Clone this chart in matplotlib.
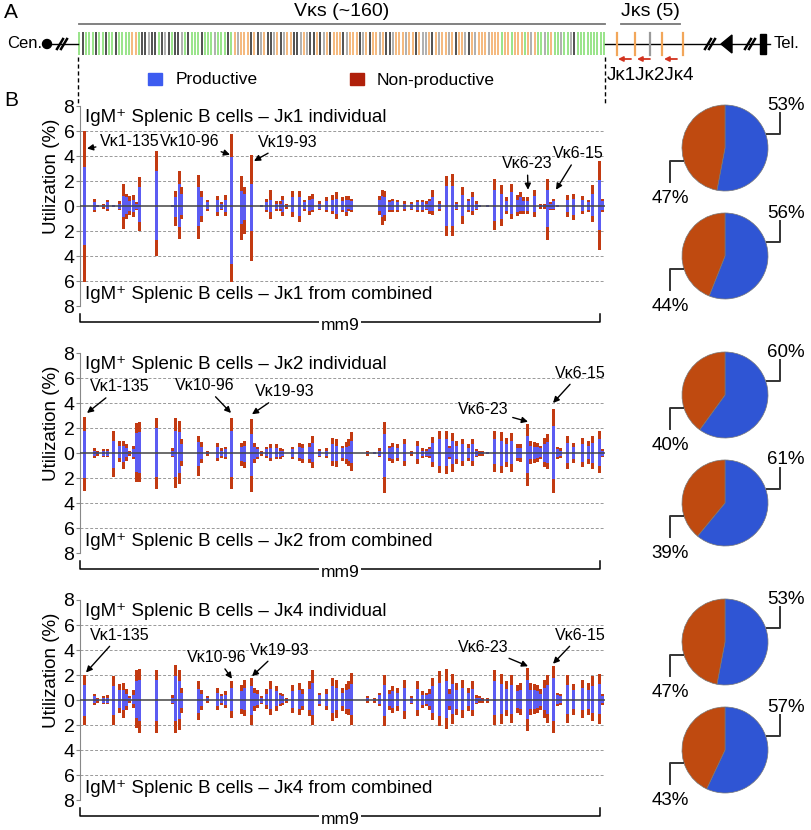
import numpy as np
import matplotlib
matplotlib.use('Agg')
import matplotlib.pyplot as plt
from matplotlib.patches import Rectangle, Circle, Polygon

plt.rcParams['font.family'] = ['Liberation Sans', 'DejaVu Sans']

# ---------------- data ----------------
# V gene positions along the locus (arbitrary locus units)
v_pos = [78, 85, 95, 98, 104, 108, 114, 120, 124, 127,
         130, 134, 137, 140, 157, 173, 176, 180, 182, 199,
         202, 208, 218, 222, 226, 232, 242, 245, 252, 255,
         258, 262, 267, 271, 277, 281, 283, 287, 293, 300,
         303, 305, 310, 313, 320, 327, 333, 337, 343, 347,
         349, 352, 368, 375, 380, 383, 385, 390, 393, 398,
         405, 412, 418, 423, 427, 430, 433, 440, 447, 450,
         453, 457, 463, 469, 473, 477, 480, 483, 488, 495,
         502, 507, 512, 518, 521, 524, 528, 531, 535, 538,
         541, 545, 548, 551, 554, 558, 561, 568, 574, 583,
         589, 593, 600, 603]

# Jk1: total utilization (%) and productive part, individual (top) / from combined (bottom)
j1_top = [0, 6.0, 0.6, 0.1, 0.2, 0.5, 0.1, 0.4, 1.8, 1.0,
          0.8, 0.9, 0.3, 2.3, 4.4, 0.1, 1.2, 2.8, 1.5, 2.5,
          1.2, 0.5, 0.8, 0.3, 0.9, 5.8, 2.4, 1.5, 4.1, 0,
          0, 0.1, 0.6, 1.3, 0.4, 0.4, 0.8, 0.2, 1.2, 1.2,
          0, 0.5, 0.8, 1.0, 0.4, 0.7, 0.9, 1.1, 0.7, 0.8,
          0.8, 0.6, 0, 0, 0.8, 1.3, 1.2, 0.5, 0.6, 0.5,
          0.4, 0.3, 0.5, 0.5, 0.4, 0.6, 1.3, 0.4, 2.4, 0,
          2.6, 0.3, 1.5, 0.6, 1.1, 0.4, 0.1, 0, 0.1, 2.2,
          1.7, 0.7, 1.8, 0.9, 1.1, 0.7, 0.7, 0, 1.3, 0,
          0.2, 0.2, 2.2, 0.3, 0.6, 0.1, 0, 0.9, 1.0, 0.8,
          0.5, 1.7, 3.6, 0.6]
j1_top_prod = [0, 3.1, 0.3, 0.05, 0.1, 0.3, 0.05, 0.2, 0.8, 0.7,
               0.4, 0.5, 0.2, 1.5, 2.8, 0.05, 0.7, 1.8, 1.0, 1.5,
               0.7, 0.3, 0.5, 0.2, 0.5, 3.9, 1.2, 1.0, 1.8, 0,
               0, 0.05, 0.3, 0.5, 0.2, 0.2, 0.5, 0.1, 0.7, 0.7,
               0, 0.3, 0.5, 0.6, 0.2, 0.4, 0.5, 0.6, 0.4, 0.5,
               0.5, 0.4, 0, 0, 0.5, 0.8, 0.7, 0.3, 0.4, 0.3,
               0.2, 0.2, 0.3, 0.3, 0.2, 0.4, 0.7, 0.2, 1.6, 0,
               1.6, 0.2, 0.9, 0.4, 0.7, 0.2, 0.05, 0, 0.05, 1.3,
               1.0, 0.4, 1.1, 0.5, 0.7, 0.4, 0.4, 0, 0.8, 0,
               0.1, 0.1, 1.3, 0.2, 0.4, 0.05, 0, 0.5, 0.6, 0.5,
               0.3, 1.0, 2.1, 0.4]
j1_bot = [0, 6.1, 0.5, 0.1, 0.2, 0.4, 0.1, 0.3, 1.8, 1.0,
          0.7, 0.9, 0.3, 2.0, 4.0, 0.1, 1.6, 2.6, 1.0, 2.6,
          1.3, 0.4, 0.8, 0.3, 0.8, 6.1, 2.7, 2.2, 4.4, 0,
          0, 0.1, 0.5, 1.0, 0.4, 0.4, 0.8, 0.2, 0.9, 1.3,
          0, 0.4, 0.7, 0.5, 0.3, 0.5, 0.6, 1.0, 0.5, 0.8,
          0.4, 0.5, 0, 0, 0.7, 1.5, 1.2, 0.5, 0.5, 0.5,
          0.4, 0.3, 0.5, 0.5, 0.3, 0.6, 0.7, 0.4, 2.4, 0,
          2.4, 0.3, 1.4, 0.5, 0.7, 0.3, 0.1, 0, 0.1, 1.9,
          1.6, 0.6, 1.0, 0.8, 0.6, 0.6, 0.6, 0, 0.9, 0,
          0.2, 0.2, 2.7, 0.3, 0.3, 0.1, 0, 0.9, 1.1, 0.6,
          0.5, 1.3, 3.5, 0.5]
j1_bot_prod = [0, 3.1, 0.3, 0.05, 0.1, 0.2, 0.05, 0.2, 0.9, 0.6,
               0.4, 0.5, 0.2, 1.3, 2.7, 0.05, 0.9, 1.7, 0.7, 1.6,
               0.8, 0.2, 0.5, 0.2, 0.5, 4.6, 1.4, 1.1, 2.0, 0,
               0, 0.05, 0.3, 0.5, 0.2, 0.2, 0.5, 0.1, 0.5, 0.8,
               0, 0.2, 0.4, 0.3, 0.2, 0.3, 0.4, 0.6, 0.3, 0.5,
               0.2, 0.3, 0, 0, 0.4, 0.9, 0.7, 0.3, 0.3, 0.3,
               0.2, 0.2, 0.3, 0.3, 0.2, 0.4, 0.4, 0.2, 1.6, 0,
               1.6, 0.2, 0.8, 0.3, 0.4, 0.2, 0.05, 0, 0.05, 1.2,
               1.0, 0.4, 0.6, 0.5, 0.4, 0.4, 0.4, 0, 0.5, 0,
               0.1, 0.1, 1.7, 0.2, 0.2, 0.05, 0, 0.5, 0.7, 0.4,
               0.3, 0.8, 1.9, 0.3]

# Jk2
j2_top = [2.0, 2.9, 0.4, 0.2, 0.3, 0.3, 1.8, 1.0, 1.0, 0.7,
          0.2, 0.6, 2.4, 2.5, 2.8, 0.4, 2.8, 2.6, 1.1, 1.4,
          0.9, 0.2, 0.8, 0.4, 0.5, 2.8, 0.8, 1.0, 2.7, 0.8,
          0.5, 0.2, 0.5, 0.7, 0.7, 0.4, 0.3, 0, 0.5, 0.8,
          0.7, 0, 0.8, 1.4, 0.3, 0.4, 1.2, 1.1, 0.6, 0.9,
          1.1, 1.7, 0.2, 0.1, 0.4, 0, 2.5, 0.6, 0.8, 0.7,
          1.1, 0.2, 1.0, 0.4, 0.3, 0.5, 1.3, 1.8, 1.8, 0.6,
          1.6, 1.0, 1.1, 0.7, 1.1, 0.3, 0.2, 0.2, 0.1, 1.8,
          1.7, 1.2, 1.6, 0.7, 0.7, 0, 2.3, 1.0, 0.9, 0.8,
          0.6, 1.2, 1.5, 0, 3.5, 0.5, 0.4, 1.4, 0.8, 1.2,
          1.0, 1.4, 1.8, 0.3]
j2_top_prod = [1.3, 1.8, 0.2, 0.1, 0.2, 0.2, 1.0, 0.6, 0.6, 0.4,
               0.1, 0.3, 1.6, 1.7, 2.0, 0.2, 1.8, 1.7, 0.7, 0.9,
               0.5, 0.1, 0.5, 0.2, 0.3, 1.8, 0.5, 0.6, 1.5, 0.5,
               0.3, 0.1, 0.3, 0.4, 0.4, 0.2, 0.2, 0, 0.3, 0.5,
               0.4, 0, 0.5, 0.8, 0.2, 0.2, 0.7, 0.6, 0.4, 0.5,
               0.6, 1.0, 0.1, 0.05, 0.2, 0, 1.5, 0.4, 0.5, 0.4,
               0.7, 0.1, 0.6, 0.2, 0.2, 0.3, 0.8, 1.1, 1.1, 0.4,
               1.0, 0.6, 0.7, 0.4, 0.7, 0.2, 0.1, 0.1, 0.05, 1.1,
               1.0, 0.7, 1.0, 0.4, 0.4, 0, 1.4, 0.6, 0.5, 0.5,
               0.4, 0.7, 0.9, 0, 2.2, 0.3, 0.2, 0.8, 0.5, 0.7,
               0.6, 0.8, 1.1, 0.2]
j2_bot = [2.7, 3.0, 0.4, 0.2, 0.3, 0.3, 1.9, 0.7, 1.3, 0.6,
          0.2, 0.5, 2.3, 2.3, 2.9, 0.3, 2.8, 2.5, 1.0, 1.8,
          0.8, 0.2, 0.6, 0.4, 0.5, 2.9, 1.0, 1.2, 3.1, 0.8,
          0.5, 0.2, 0.4, 0.6, 0.5, 0.5, 0.3, 0, 0.5, 0.6,
          0.8, 0, 0.8, 1.2, 0.3, 0.4, 1.0, 1.1, 0.6, 0.9,
          1.0, 1.4, 0.2, 0.1, 0.3, 0, 3.2, 0.6, 0.8, 0.6,
          1.0, 0.2, 0.9, 0.4, 0.3, 0.4, 1.1, 1.6, 1.7, 0.5,
          1.5, 0.9, 1.0, 0.6, 1.0, 0.3, 0.2, 0.2, 0.1, 1.5,
          1.6, 1.1, 1.5, 0.6, 0.7, 0, 2.6, 0.9, 0.8, 0.7,
          0.5, 1.1, 1.3, 0, 3.2, 0.5, 0.4, 1.3, 0.8, 1.1,
          0.9, 1.3, 1.6, 0.3]
j2_bot_prod = [1.9, 2.0, 0.2, 0.1, 0.2, 0.2, 1.2, 0.4, 0.7, 0.3,
               0.1, 0.3, 1.5, 1.6, 1.9, 0.2, 1.9, 1.6, 0.6, 1.0,
               0.5, 0.1, 0.4, 0.2, 0.3, 1.9, 0.6, 0.7, 1.8, 0.5,
               0.3, 0.1, 0.2, 0.4, 0.3, 0.3, 0.2, 0, 0.3, 0.4,
               0.5, 0, 0.5, 0.7, 0.2, 0.2, 0.6, 0.6, 0.4, 0.5,
               0.6, 0.8, 0.1, 0.05, 0.2, 0, 1.9, 0.4, 0.5, 0.4,
               0.6, 0.1, 0.5, 0.2, 0.2, 0.2, 0.7, 1.0, 1.0, 0.3,
               0.9, 0.5, 0.6, 0.4, 0.6, 0.2, 0.1, 0.1, 0.05, 0.9,
               1.0, 0.7, 0.9, 0.4, 0.4, 0, 1.6, 0.5, 0.5, 0.4,
               0.3, 0.7, 0.8, 0, 2.1, 0.3, 0.2, 0.8, 0.5, 0.7,
               0.5, 0.8, 1.0, 0.2]

# Jk4
j4_top = [2.0, 2.0, 0.5, 0.2, 0.3, 0.4, 1.9, 1.3, 1.4, 0.9,
          0.3, 0.8, 2.4, 2.5, 2.4, 0.4, 2.8, 2.4, 1.0, 1.5,
          0.8, 0.3, 1.0, 0.5, 0.7, 1.5, 1.2, 1.6, 1.8, 1.0,
          0.8, 0.3, 0.9, 1.5, 1.1, 0.6, 0.5, 0.2, 1.2, 1.4,
          0.9, 0, 1.5, 2.4, 0.6, 0.9, 1.8, 1.6, 1.0, 1.3,
          1.5, 2.2, 0.3, 0.2, 0.6, 0, 2.0, 0.8, 1.1, 1.0,
          1.6, 0.3, 1.5, 0.7, 0.6, 0.9, 1.8, 2.3, 2.5, 0.9,
          2.1, 1.4, 1.6, 1.0, 1.5, 0.4, 0.3, 0.2, 0.2, 2.4,
          2.1, 1.5, 2.0, 1.2, 1.4, 0, 2.6, 1.4, 1.3, 1.2,
          0.9, 1.6, 2.0, 0, 2.7, 0.6, 0.5, 2.0, 1.3, 1.6,
          1.4, 1.9, 2.1, 0.5]
j4_top_prod = [1.3, 1.2, 0.3, 0.1, 0.2, 0.2, 1.1, 0.8, 0.8, 0.5,
               0.2, 0.4, 1.5, 1.6, 1.6, 0.2, 1.9, 1.5, 0.6, 0.9,
               0.5, 0.2, 0.6, 0.3, 0.4, 1.0, 0.7, 1.0, 1.1, 0.6,
               0.5, 0.2, 0.5, 0.9, 0.7, 0.4, 0.3, 0.1, 0.7, 0.8,
               0.5, 0, 0.9, 1.4, 0.4, 0.5, 1.1, 1.0, 0.6, 0.8,
               0.9, 1.3, 0.2, 0.1, 0.4, 0, 1.2, 0.5, 0.7, 0.6,
               1.0, 0.2, 0.9, 0.4, 0.4, 0.5, 1.1, 1.4, 1.5, 0.5,
               1.3, 0.8, 1.0, 0.6, 0.9, 0.2, 0.2, 0.1, 0.1, 1.5,
               1.3, 0.9, 1.2, 0.7, 0.8, 0, 1.6, 0.8, 0.8, 0.7,
               0.5, 1.0, 1.2, 0, 1.8, 0.4, 0.3, 1.2, 0.8, 1.0,
               0.8, 1.1, 1.3, 0.3]
j4_bot = [2.0, 2.0, 0.4, 0.2, 0.3, 0.3, 2.0, 1.0, 1.4, 0.8,
          0.2, 0.6, 2.2, 2.6, 2.6, 0.3, 2.6, 2.4, 1.0, 1.6,
          0.8, 0.2, 0.8, 0.4, 0.6, 1.4, 1.1, 1.3, 2.0, 0.9,
          0.6, 0.3, 0.7, 1.2, 0.9, 0.5, 0.4, 0.2, 1.0, 1.2,
          0.8, 0, 1.3, 2.0, 0.5, 0.8, 1.7, 1.4, 0.9, 1.1,
          1.2, 2.0, 0.2, 0.2, 0.5, 0, 2.1, 0.8, 1.0, 0.9,
          1.5, 0.3, 1.3, 0.6, 0.5, 0.8, 1.6, 2.1, 2.3, 0.8,
          1.9, 1.2, 1.4, 0.9, 1.3, 0.3, 0.2, 0.2, 0.2, 2.0,
          1.9, 1.3, 1.8, 1.0, 1.2, 0, 2.5, 1.2, 1.1, 1.0,
          0.8, 1.4, 1.8, 0, 2.6, 0.5, 0.4, 1.8, 1.2, 1.4,
          1.2, 1.7, 1.9, 0.4]
j4_bot_prod = [1.4, 1.3, 0.2, 0.1, 0.2, 0.2, 1.2, 0.6, 0.8, 0.5,
               0.1, 0.3, 1.4, 1.7, 1.7, 0.2, 1.7, 1.5, 0.6, 1.0,
               0.5, 0.1, 0.5, 0.2, 0.4, 0.9, 0.7, 0.8, 1.2, 0.5,
               0.4, 0.2, 0.4, 0.7, 0.5, 0.3, 0.2, 0.1, 0.6, 0.7,
               0.5, 0, 0.8, 1.2, 0.3, 0.5, 1.0, 0.8, 0.5, 0.7,
               0.7, 1.2, 0.1, 0.1, 0.3, 0, 1.3, 0.5, 0.6, 0.5,
               0.9, 0.2, 0.8, 0.4, 0.3, 0.5, 1.0, 1.3, 1.4, 0.5,
               1.1, 0.7, 0.8, 0.5, 0.8, 0.2, 0.1, 0.1, 0.1, 1.2,
               1.1, 0.8, 1.1, 0.6, 0.7, 0, 1.5, 0.7, 0.7, 0.6,
               0.5, 0.8, 1.1, 0, 1.7, 0.3, 0.2, 1.1, 0.7, 0.8,
               0.7, 1.0, 1.1, 0.2]

jk_names = ['Jκ1', 'Jκ2', 'Jκ4']
pie_individual = [(53, 47), (60, 40), (53, 47)]   # productive, non-productive
pie_combined = [(56, 44), (61, 39), (57, 43)]

# V segment colour codes along the locus: g green, k black, a grey, o orange
v_colors = ("gkgggkggkggkgggg" "oogk" "kakkgkakgkkagk" "gggkgggagggkg" "oaoooko"
            "kaokkaokaookkaoakkokaok" "oookaoookaokooaokkaoooaooko"
            "aaokoaooaokooakoaoooa" "ooogoogooogoaog" "gagoggaggakg" "gggggggg")
j_colors = "ooaoo"

# ---------------- style ----------------
BLUE = '#5C5CF2'
RED = '#C23A12'
PIE_BLUE = '#2F55D4'
PIE_RED = '#BF4A10'
code_col = {'g': '#7DDC6A', 'k': '#222222', 'a': '#9A9A9A', 'o': '#F2A65A'}

W, H = 812, 830
fig = plt.figure(figsize=(W / 100, H / 100), dpi=100)

def px_rect(x0, y0, x1, y1):
    return [x0 / W, 1 - y1 / H, (x1 - x0) / W, (y1 - y0) / H]

panels = [
    dict(zero=206, top=j1_top, tp=j1_top_prod, bot=j1_bot, bp=j1_bot_prod,
         ann=[('Vκ1-135', (100, 5.2), (87, 4.6)), ('Vκ10-96', (160, 5.2), (230, 4.1)),
              ('Vκ19-93', (258, 5.1), (254, 3.6)), ('Vκ6-23', (502, 3.4), (528, 1.3)),
              ('Vκ6-15', (553, 4.2), (556, 1.3))]),
    dict(zero=453, top=j2_top, tp=j2_top_prod, bot=j2_bot, bp=j2_bot_prod,
         ann=[('Vκ1-135', (90, 5.3), (87, 3.2)), ('Vκ10-96', (175, 5.4), (231, 3.2)),
              ('Vκ19-93', (255, 4.9), (252, 3.1)), ('Vκ6-23', (458, 3.5), (528, 2.5)),
              ('Vκ6-15', (555, 6.4), (553, 4.0))]),
    dict(zero=700, top=j4_top, tp=j4_top_prod, bot=j4_bot, bp=j4_bot_prod,
         ann=[('Vκ1-135', (90, 5.2), (86, 2.2)), ('Vκ10-96', (187, 3.4), (232, 1.7)),
              ('Vκ19-93', (250, 4.0), (252, 1.9)), ('Vκ6-23', (458, 4.2), (528, 2.7)),
              ('Vκ6-15', (555, 5.2), (553, 2.9))]),
]

pos = np.array(v_pos, dtype=float)
for i, p in enumerate(panels):
    z = p['zero']
    ax = fig.add_axes(px_rect(80, z - 100, 605, z + 100))
    top, tp = np.array(p['top']), np.array(p['tp'])
    bot, bp = np.array(p['bot']), np.array(p['bp'])
    bw = 3.0
    ax.bar(pos, tp, width=bw, color=BLUE, lw=0, zorder=2)
    ax.bar(pos, top - tp, bottom=tp, width=bw, color=RED, lw=0, zorder=2)
    ax.bar(pos, -bp, width=bw, color=BLUE, lw=0, zorder=2)
    ax.bar(pos, -(bot - bp), bottom=-bp, width=bw, color=RED, lw=0, zorder=2)
    ax.axhline(0, color='#444444', lw=1.1, zorder=3)
    for g in [-6, -4, -2, 2, 4, 6]:
        ax.axhline(g, color='#999999', lw=0.7, ls=(0, (3, 2)), zorder=1)
    ax.set_xlim(80, 605)
    ax.set_ylim(-8, 8)
    ax.set_yticks(range(-8, 9, 2))
    ax.set_yticklabels([str(abs(t)) for t in range(-8, 9, 2)], fontsize=14)
    ax.set_xticks([])
    for s in ['top', 'right', 'bottom']:
        ax.spines[s].set_visible(False)
    ax.spines['left'].set_color('#888888')
    ax.tick_params(axis='y', length=3, color='#888888', pad=1)
    ax.patch.set_alpha(0)
    ax.text(85, 7.05, 'IgM⁺ Splenic B cells – %s individual' % jk_names[i],
            fontsize=13.5, va='center', ha='left')
    ax.text(85, -7.1, 'IgM⁺ Splenic B cells – %s from combined' % jk_names[i],
            fontsize=13.5, va='center', ha='left')
    for lab, xyt, xyh in p['ann']:
        ax.annotate(lab, xy=xyh, xytext=xyt, fontsize=11.5, ha='left', va='center',
                    arrowprops=dict(arrowstyle='-|>', color='black', lw=1,
                                    mutation_scale=9, shrinkA=1, shrinkB=0),
                    zorder=5)

    # pies
    for k, (vals, cy) in enumerate([(pie_individual[i], z - 58), (pie_combined[i], z + 50)]):
        pa = fig.add_axes(px_rect(725 - 64.5, cy - 64.5, 725 + 64.5, cy + 64.5))
        pa.pie(vals, colors=[PIE_BLUE, PIE_RED], startangle=90, counterclock=False,
               wedgeprops=dict(edgecolor='#777777', lw=0.5))
        pa.set_xlim(-1.5, 1.5)
        pa.set_ylim(-1.5, 1.5)
        pa.set_aspect('equal')
        pa.axis('off')
        pa.plot([0.97, 1.27, 1.27], [0.33, 0.33, 0.82], color='#333333', lw=1.4, clip_on=False)
        pa.text(1.42, 1.0, '%d%%' % vals[0], fontsize=13.5, ha='center', va='center')
        pa.plot([-0.97, -1.27, -1.27], [-0.3, -0.3, -0.8], color='#333333', lw=1.4, clip_on=False)
        pa.text(-1.27, -1.17, '%d%%' % vals[1], fontsize=13.5, ha='center', va='center')

# ---------------- overlay (schematic, labels, brackets) ----------------
ov = fig.add_axes([0, 0, 1, 1])
ov.set_xlim(0, W)
ov.set_ylim(H, 0)
ov.axis('off')
ov.patch.set_alpha(0)

ov.text(4, 13, 'A', fontsize=15, va='center')
ov.text(4, 101, 'B', fontsize=15, va='center')

# V cluster
vx = np.linspace(79.5, 604, len(v_colors))
for x, c in zip(vx, v_colors):
    ov.plot([x, x], [32, 55], color=code_col[c], lw=1.1, solid_capstyle='butt')
ov.plot([79, 605], [24, 24], color='#777777', lw=1.3)
ov.text(342, 12, 'Vκs (~160)', fontsize=14, ha='center', va='center')

# left end
ov.text(7, 44, 'Cen.', fontsize=12, va='center')
ov.add_patch(Circle((47, 44), 4.5, color='black'))
ov.plot([52, 78], [44, 44], color='black', lw=1)
for dx in (0, 4):
    ov.plot([57 + dx, 63 + dx], [49, 39], color='black', lw=1.8)

# J cluster and telomeric end
ov.plot([605, 770], [44, 44], color='black', lw=1)
jx = [617, 635, 650, 662, 683]
for x, c in zip(jx, j_colors):
    ov.plot([x, x], [33, 55], color=code_col[c], lw=1.6)
ov.plot([621, 680], [24, 24], color='#777777', lw=1.3)
ov.text(650, 12, 'Jκs (5)', fontsize=14, ha='center', va='center')
for x0, x1 in [(631, 618), (650, 637), (677, 664)]:
    ov.annotate('', xy=(x1, 59), xytext=(x0, 59),
                arrowprops=dict(arrowstyle='-|>', color='#D2321E', lw=1.3,
                                mutation_scale=7, shrinkA=0, shrinkB=0))
ov.text(607, 76, 'Jκ1Jκ2Jκ4', fontsize=13.5, ha='left', va='center')
for xs in (705, 745):
    for dx in (0, 4):
        ov.plot([xs + dx, xs + 6 + dx], [49, 39], color='black', lw=1.8)
ov.add_patch(Polygon([[721, 44], [732, 35], [732, 53]], closed=True, color='black'))
ov.add_patch(Rectangle((760, 34), 6, 20, color='black'))
ov.text(774, 44, 'Tel.', fontsize=12, va='center')

# dashed guides
for x in (78, 605.5):
    ov.plot([x, x], [57, 105], color='black', lw=1, ls=(0, (3, 2)))

# legend
ov.add_patch(Rectangle((148, 73), 14, 12, color='#3D5CF0'))
ov.text(176, 80, 'Productive', fontsize=12.5, va='center')
ov.add_patch(Rectangle((350, 73), 14, 12, color='#B0200A'))
ov.text(377, 81, 'Non-productive', fontsize=12.5, va='center')

# y labels and mm9 brackets
for p in panels:
    z = p['zero']
    ov.text(52, z - 30, 'Utilization (%)', fontsize=13.5, rotation=90,
            ha='center', va='center')
    yb = z + 116
    ov.plot([80, 80, 600, 600], [yb - 8, yb, yb, yb - 8], color='black', lw=1.1)
    ov.text(340, yb + 3, 'mm9', fontsize=12.5, ha='center', va='center',
            bbox=dict(facecolor='white', edgecolor='none', pad=1))

fig.savefig('out.png', dpi=100)
